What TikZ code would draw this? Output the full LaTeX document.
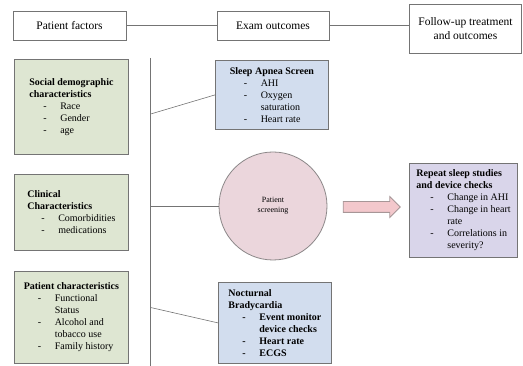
\documentclass[tikz,border=0pt]{standalone}
\usepackage{fontspec}
\setmainfont{Liberation Serif}
\usepackage{tikz}
\usetikzlibrary{positioning, shapes.arrows, calc}
\definecolor{factgreen}{HTML}{DEE6D2}
\definecolor{exambblue}{HTML}{D2DDEE}
\definecolor{screenpink}{HTML}{EBD6DC}
\definecolor{arrowpink}{HTML}{F3C8CC}
\definecolor{followpurple}{HTML}{D9D5EA}
\definecolor{edgegray}{HTML}{747474}

% list lines inside the boxes
\newcommand{\itm}[1]{\hspace*{14pt}\makebox[17pt][l]{-}#1}
\newcommand{\cnt}[1]{\hspace*{31pt}#1}

\begin{document}
\begin{tikzpicture}[x=1pt, y=1pt,
  head/.style={rectangle, draw=edgegray, semithick, font=\fontsize{11.5}{14}\selectfont, align=center, inner sep=2pt},
  infobox/.style={rectangle, draw=edgegray, thick, font=\fontsize{10}{12}\selectfont, align=left, anchor=north west, inner xsep=7pt, inner ysep=5pt},
  link/.style={draw=edgegray, semithick}]

\useasboundingbox (0,0) rectangle (523,366);

% column headers
\node[head, minimum width=113pt, minimum height=29pt] (pf) at (69.5,340.5) {Patient factors};
\node[head, minimum width=112pt, minimum height=29pt] (eo) at (273,340.5) {Exam outcomes};
\node[head, minimum width=112pt, minimum height=49pt] (fu) at (465.5,337.5) {Follow-up treatment\\and outcomes};
\draw[link] (pf) -- (eo);
\draw[link] (eo.east) -- (eo.east -| fu.west);

% patient factors
\node[infobox, fill=factgreen, minimum width=114pt, minimum height=95pt] (sd) at (14,307)
  {\textbf{Social demographic}\\\textbf{characteristics}\\\itm{Race}\\\itm{Gender}\\\itm{age}};
\node[infobox, fill=factgreen, minimum width=114pt, minimum height=76pt] (cl) at (14,192)
  {\textbf{Clinical}\\\textbf{Characteristics}\\\itm{Comorbidities}\\\itm{medications}};
\node[infobox, fill=factgreen, minimum width=114pt, minimum height=92pt] (pc) at (14,95)
  {\textbf{Patient characteristics}\\\itm{Functional}\\\cnt{Status}\\\itm{Alcohol and}\\\cnt{tobacco use}\\\itm{Family history}};

% exam outcomes
\node[infobox, fill=exambblue, minimum width=113pt, minimum height=69pt] (sa) at (215,306)
  {\textbf{Sleep Apnea Screen}\\\itm{AHI}\\\itm{Oxygen}\\\cnt{saturation}\\\itm{Heart rate}};
\node[circle, draw=edgegray!80!screenpink, thick, fill=screenpink, minimum size=108pt, font=\fontsize{8}{10}\selectfont, align=center] (ps) at (273,160) {Patient\\screening};
\node[infobox, fill=exambblue, minimum width=113pt, minimum height=81pt, font=\fontsize{10}{12}\selectfont\bfseries] (nb) at (218,84)
  {Nocturnal\\Bradycardia\\\itm{Event monitor}\\\cnt{device checks}\\\itm{Heart rate}\\\itm{ECGS}};

% follow-up
\node[single arrow, draw=edgegray!60!arrowpink, thick, fill=arrowpink, minimum height=57pt, single arrow head extend=5pt, inner xsep=0pt, inner ysep=5pt] (go) at (369,159) {};
\node[infobox, fill=followpurple, minimum width=97pt, minimum height=94pt] (rs) at (409,203)
  {\textbf{Repeat sleep studies}\\\textbf{and device checks}\\\itm{Change in AHI}\\\itm{Change in heart}\\\cnt{rate}\\\itm{Correlations in}\\\cnt{severity?}};

% trunk line and its branches
\coordinate (vtop) at (150.5,308);
\coordinate (vbot) at (150.5,0);
\draw[link] (vtop) -- (vbot);
\draw[link] ($(vtop)!0.182!(vbot)$) -- (sa.west);
\draw[link] (ps.west -| vtop) -- (ps.west);
\draw[link] ($(vtop)!0.81!(vbot)$) -- (nb.west);
\end{tikzpicture}
\end{document}
